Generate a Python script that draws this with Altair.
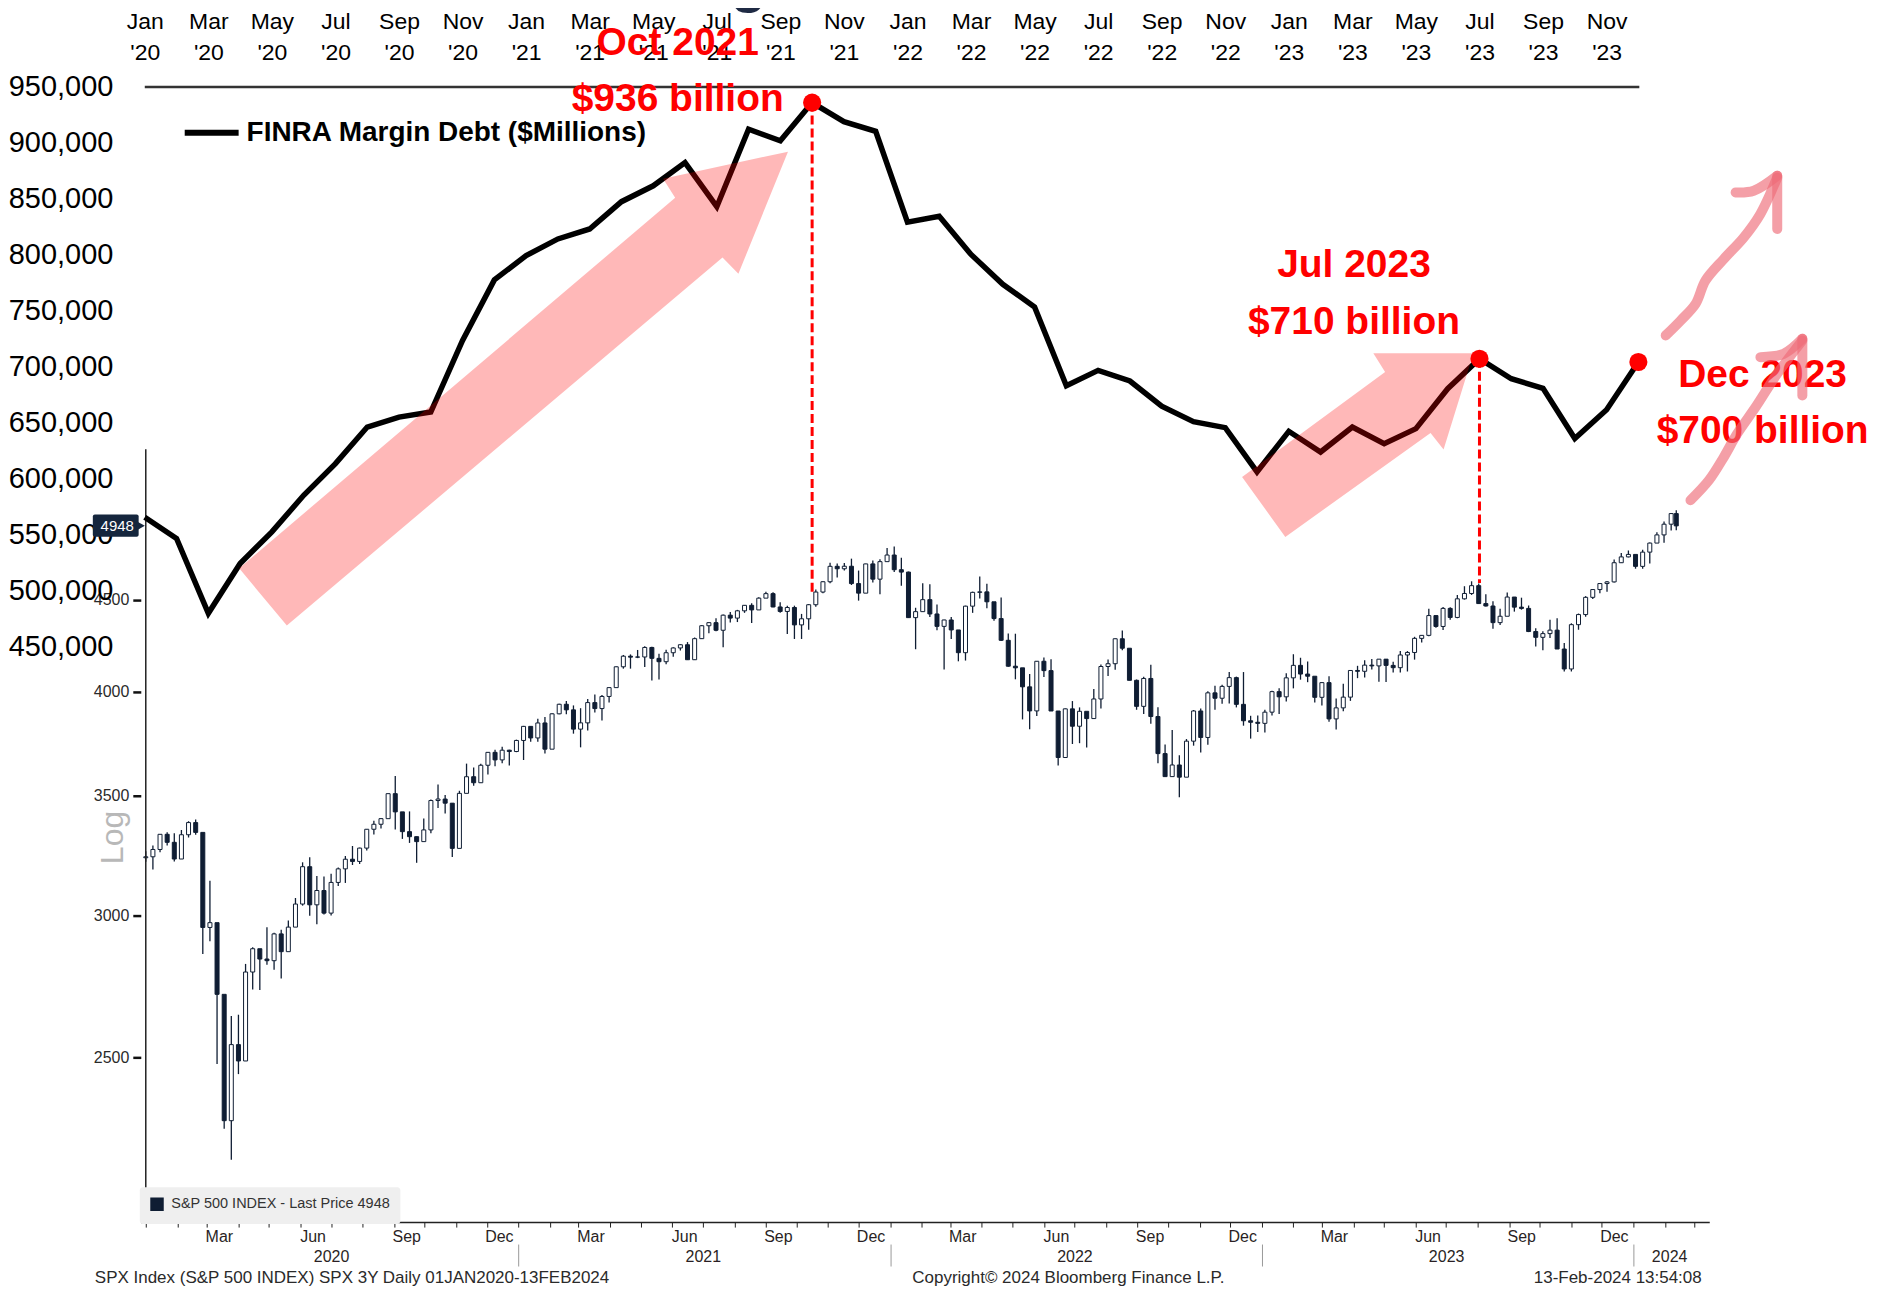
import json
import altair as alt
import pandas as pd

FONT = "Liberation Sans"
NAVY = "#0f1d33"

# ---------------- FINRA margin debt, monthly Jan 2020 .. Dec 2023 ($ millions) ----------------
md_series = "FINRA Margin Debt ($Millions)"
md_values = [565300, 546300, 479400, 523900, 552200, 584900, 613200, 645900, 654800, 659300, 723300, 777500,
             799200, 814100, 823000, 847400, 861600, 882400, 842900, 912200, 901800, 936000, 918900, 910300,
             829100, 834400, 800200, 773500, 753300, 682800, 696600, 687100, 664600, 650700, 645400, 605800,
             642100, 623600, 645900, 631100, 644500, 680200, 707000, 689100, 680600, 635700, 661400, 704100]
md_index = list(range(len(md_values)))

top_tick_index = list(range(0, 48, 2))
top_tick_month = ["Jan", "Mar", "May", "Jul", "Sep", "Nov"] * 4
top_tick_year = ["'20"] * 6 + ["'21"] * 6 + ["'22"] * 6 + ["'23"] * 6
md_y_ticks = [450000, 500000, 550000, 600000, 650000, 700000, 750000, 800000, 850000, 900000, 950000]

callout_text = ["Oct 2021", "$936 billion", "Jul 2023", "$710 billion", "Dec 2023", "$700 billion"]
callout_i = [16.77, 16.77, 38.05, 38.05, 50.91, 50.91]
callout_v = [989400, 939100, 790700, 739400, 692300, 642200]

peak_i = [21, 42, 47]
peak_v = [936000, 707000, 704100]

drop_i = [21, 42]
drop_top = [936000, 707000]
drop_bottom = [495800, 506500]

top_rule_start = [0.0]
top_rule_end = [47.03]
top_rule_level = [950000]

# pink block arrows (vertices in month-index / value units)
arrow_id = [1] * 7 + [2] * 7
arrow_i = [2.97, 16.69, 16.31, 20.24, 18.68, 18.18, 4.47,
           34.53, 39.03, 38.66, 41.81, 40.87, 40.46, 35.89]
arrow_v = [519600, 850900, 868000, 892100, 783000, 797400, 468500,
           601300, 695100, 712000, 712000, 625800, 640600, 547700]

# hand-drawn strokes on the right
stroke_id = [1] * 8 + [2] * 3 + [3] * 2 + [4] * 7 + [5] * 3 + [6] * 2
stroke_i = [47.86, 48.33, 48.80, 49.11, 49.69, 50.32, 50.84, 51.37,
            50.06, 50.63, 51.37,
            51.37, 51.37,
            48.64, 49.22, 49.69, 50.11, 50.69, 51.37, 52.16,
            50.84, 51.57, 52.16,
            52.16, 52.16]
stroke_v = [727800, 741100, 756000, 776800, 796200, 815500, 836400, 869000,
            855700, 857200, 870600,
            870600, 823000,
            580500, 598300, 619100, 640000, 663800, 693600, 723300,
            708400, 711400, 724800,
            724800, 674200]

# ---------------- S&P 500 weekly candles (Jan 2020 .. 13 Feb 2024) ----------------
spx_label = "S&P 500 INDEX - Last Price 4948"
spx_first_open = 3230.78
spx_close = [
    3234.85, 3265.35, 3329.62, 3295.47, 3225.52, 3327.71, 3380.16, 3337.75, 2954.22,
    2972.37, 2711.02, 2304.92, 2541.47, 2488.65, 2789.82, 2874.56, 2836.74,
    2830.71, 2929.80, 2863.70, 2955.45, 3044.31, 3193.93, 3041.31, 3097.74, 3009.05,
    3130.01, 3185.04, 3224.73, 3215.63, 3271.12, 3351.28, 3372.85, 3397.16, 3508.01,
    3426.96, 3340.97, 3319.47, 3298.46, 3348.44, 3477.13, 3483.81, 3465.39, 3269.96,
    3509.44, 3585.15, 3557.54, 3638.35, 3699.12, 3663.46, 3709.41, 3703.06, 3756.07,
    3824.68, 3768.25, 3841.47, 3714.24, 3886.83, 3934.83, 3906.71, 3811.15,
    3841.94, 3943.34, 3913.10, 3974.54, 4019.87, 4128.80, 4185.47, 4180.17, 4181.17,
    4232.60, 4173.85, 4155.86, 4204.11, 4229.89, 4247.44, 4166.45, 4280.70,
    4352.34, 4369.55, 4327.16, 4411.79, 4395.26, 4436.52, 4468.00, 4441.67, 4509.37,
    4535.43, 4458.58, 4432.99, 4455.48, 4357.04, 4391.34, 4471.37, 4544.90, 4605.38,
    4697.53, 4682.85, 4697.96, 4594.62, 4538.43, 4712.02, 4620.64, 4725.79, 4766.18,
    4677.03, 4662.85, 4397.94, 4431.85, 4500.53, 4418.64, 4348.87, 4384.65,
    4328.87, 4204.31, 4463.12, 4543.06, 4545.86, 4488.28, 4392.59, 4271.78, 4131.93,
    4123.34, 4023.89, 3901.36, 4158.24, 4108.54, 3900.86, 3674.84, 3911.74,
    3825.33, 3899.38, 3863.16, 3961.63, 4130.29, 4145.19, 4280.15, 4228.48, 4057.66,
    3924.26, 4067.36, 3873.33, 3693.23, 3585.62, 3639.66, 3583.07, 3752.75, 3901.06,
    3770.55, 3992.93, 3965.34, 4026.12, 4071.70, 3934.38, 3852.36, 3844.82, 3839.50,
    3895.08, 3999.09, 3972.61, 4070.56, 4136.48, 4090.46, 4079.09, 3970.04,
    4045.64, 3861.59, 3916.64, 3970.99, 4109.31, 4105.02, 4137.64, 4133.52, 4169.48,
    4136.25, 4124.08, 4191.98, 4205.45, 4282.37, 4298.86, 4409.59, 4348.33, 4450.38,
    4398.95, 4505.42, 4536.34, 4582.23, 4478.03, 4464.05, 4369.71, 4405.71,
    4515.77, 4457.49, 4450.32, 4320.06, 4288.05, 4308.50, 4327.78, 4224.16, 4117.37,
    4358.34, 4415.24, 4514.02, 4559.34, 4594.63, 4604.37, 4719.19, 4754.63, 4769.83,
    4697.24, 4783.83, 4839.81, 4890.97, 4958.61, 5026.61, 4948.00]
spx_high = [
    3258, 3282, 3330, 3338, 3334, 3348, 3386, 3393, 3260,
    3137, 2882, 2553, 2637, 2641, 2819, 2880, 2870,
    2955, 2934, 2945, 2981, 3068, 3212, 3233, 3156, 3154,
    3165, 3191, 3238, 3280, 3273, 3352, 3388, 3400, 3509,
    3588, 3425, 3429, 3320, 3398, 3482, 3550, 3502, 3465,
    3521, 3646, 3628, 3645, 3700, 3712, 3726, 3712, 3760,
    3827, 3824, 3862, 3871, 3890, 3938, 3951, 3929,
    3915, 3961, 3984, 3982, 4021, 4130, 4192, 4195, 4219,
    4239, 4237, 4198, 4220, 4234, 4250, 4262, 4287,
    4356, 4372, 4394, 4415, 4430, 4442, 4469, 4480, 4514,
    4546, 4543, 4486, 4466, 4466, 4419, 4476, 4560, 4609,
    4719, 4715, 4718, 4744, 4672, 4713, 4732, 4741, 4809,
    4819, 4749, 4666, 4454, 4596, 4591, 4472, 4386,
    4402, 4320, 4466, 4547, 4637, 4594, 4472, 4513, 4309,
    4308, 4100, 4091, 4159, 4178, 4169, 3838, 3914,
    3951, 3919, 3880, 4013, 4141, 4168, 4282, 4326, 4219,
    4062, 4077, 4140, 3920, 3737, 3807, 3686, 3763, 3906,
    3913, 4001, 4029, 4035, 4101, 4077, 4101, 3877, 3879,
    3907, 4004, 4016, 4095, 4196, 4177, 4157, 4051,
    4049, 4079, 3964, 4040, 4111, 4134, 4164, 4170, 4171,
    4171, 4155, 4213, 4213, 4291, 4300, 4449, 4409, 4459,
    4457, 4528, 4579, 4608, 4595, 4532, 4491, 4449,
    4542, 4515, 4512, 4467, 4339, 4321, 4386, 4394, 4257,
    4366, 4421, 4521, 4561, 4596, 4610, 4739, 4779, 4794,
    4755, 4798, 4843, 4907, 4976, 5030, 5049]
spx_low = [
    3214, 3182, 3254, 3282, 3215, 3235, 3316, 3328, 2855,
    2902, 2479, 2281, 2192, 2447, 2505, 2728, 2726,
    2816, 2798, 2767, 2920, 2970, 3038, 2999, 2966, 3004,
    3000, 3116, 3128, 3201, 3205, 3261, 3329, 3355, 3400,
    3350, 3310, 3293, 3210, 3304, 3334, 3444, 3420, 3234,
    3280, 3512, 3544, 3558, 3595, 3634, 3648, 3637, 3700,
    3663, 3750, 3750, 3694, 3726, 3885, 3885, 3789,
    3723, 3805, 3894, 3854, 3944, 4035, 4119, 4119, 4175,
    4128, 4057, 4062, 4142, 4182, 4216, 4165, 4165,
    4279, 4310, 4322, 4234, 4370, 4373, 4425, 4368, 4449,
    4514, 4457, 4425, 4306, 4279, 4279, 4330, 4460, 4538,
    4596, 4631, 4673, 4586, 4495, 4540, 4601, 4532, 4733,
    4663, 4582, 4396, 4223, 4432, 4402, 4327, 4115,
    4279, 4158, 4162, 4425, 4507, 4451, 4381, 4268, 4129,
    4063, 3859, 3811, 3876, 4075, 3901, 3637, 3706,
    3739, 3743, 3722, 3864, 3914, 4080, 4113, 4218, 4058,
    3907, 3886, 3838, 3648, 3585, 3585, 3492, 3591, 3731,
    3698, 3736, 3907, 3938, 3939, 3919, 3828, 3765, 3797,
    3795, 3878, 3886, 3949, 4016, 4061, 4048, 3944,
    3929, 3848, 3809, 3900, 3952, 4069, 4073, 4115, 4050,
    4049, 4099, 4099, 4104, 4167, 4260, 4294, 4341, 4329,
    4386, 4395, 4501, 4528, 4475, 4461, 4336, 4357,
    4415, 4432, 4443, 4317, 4238, 4217, 4285, 4224, 4104,
    4104, 4330, 4403, 4505, 4538, 4547, 4601, 4717, 4752,
    4683, 4683, 4715, 4845, 4842, 4919, 4920]

spx_y_ticks = [2500, 3000, 3500, 4000, 4500]
quarter_labels = ["Mar", "Jun", "Sep", "Dec"]
last_labelled_month = "2023-12-01"
year_label_dates = ["2020-07-01", "2021-07-01", "2022-07-01", "2023-07-01", "2024-02-05"]
year_sep_dates = ["2021-01-01", "2022-01-01", "2023-01-01", "2024-01-01"]
footer_text = ["SPX Index (S&P 500 INDEX) SPX 3Y  Daily 01JAN2020-13FEB2024",
               "Copyright\u00a9 2024 Bloomberg Finance L.P.",
               "13-Feb-2024 13:54:08"]


def ms(s):
    return int(pd.Timestamp(s, tz="UTC").value // 1_000_000)


# ---------------- frames ----------------
md_df = pd.DataFrame({"i": md_index, "value": md_values, "series": md_series})
top_rule_df = pd.DataFrame({"i0": top_rule_start, "i1": top_rule_end, "v": top_rule_level})
drop_df = pd.DataFrame({"i": drop_i, "v": drop_top, "v2": drop_bottom})
peak_df = pd.DataFrame({"i": peak_i, "v": peak_v})
call_df = pd.DataFrame({"i": callout_i, "v": callout_v, "t": callout_text})
arrow_df = pd.DataFrame({"id": arrow_id, "i": arrow_i, "v": arrow_v})
arrow_df["k"] = arrow_df.groupby("id").cumcount()
stroke_df = pd.DataFrame({"id": stroke_id, "i": stroke_i, "v": stroke_v})
stroke_df["k"] = stroke_df.groupby("id").cumcount()
g_df = pd.DataFrame({"i": [19.0], "v": [1026800], "t": ["g"]})

week_end = pd.date_range("2020-01-03", "2024-02-09", freq="W-FRI")
mid = [(d - pd.Timedelta(days=2)).strftime("%Y-%m-%d") for d in week_end] + ["2024-02-12"]
spx_df = pd.DataFrame({"date": mid, "close": spx_close, "high": spx_high, "low": spx_low})
spx_df["open"] = [spx_first_open] + spx_close[:-1]
spx_df["name"] = spx_label

# ---------------- scales ----------------
x_md = alt.Scale(domain=[-0.1257, 49.2307], nice=False, zero=False)
y_md = alt.Scale(domain=[-64816, 950000], nice=False, zero=False)
x_spx = alt.Scale(type="utc", domain=[ms("2020-01-01"), ms("2024-03-10T12:00")], nice=False)
y_spx = alt.Scale(type="log", domain=[2023.5, 8695], nice=False)

top_labels = [[m, y] for m, y in zip(top_tick_month, top_tick_year)]
top_axis = alt.Axis(orient="top", values=top_tick_index,
                    labelExpr=json.dumps(top_labels) + "[datum.value / 2]",
                    ticks=False, domain=False, grid=False, title=None,
                    labelFont=FONT, labelFontSize=23, labelLineHeight=32, labelColor="black",
                    labelPadding=54, labelFlush=False, labelOverlap=False, labelAngle=0)
left_md_axis = alt.Axis(orient="left", values=md_y_ticks, format=",d", ticks=False, domain=False,
                        grid=False, title=None, labelFont=FONT, labelFontSize=29, labelColor="black",
                        labelPadding=28, labelFlush=False, labelOverlap=False)

md_line = alt.Chart(md_df).mark_line(strokeWidth=5.5, strokeJoin="miter").encode(
    x=alt.X("i:Q", scale=x_md, axis=top_axis),
    y=alt.Y("value:Q", scale=y_md, axis=left_md_axis),
    color=alt.Color("series:N", scale=alt.Scale(domain=[md_series], range=["black"]),
                    legend=alt.Legend(orient="none", legendX=41, legendY=16, title=None,
                                      symbolType="stroke", symbolSize=2916, symbolStrokeWidth=6,
                                      labelFont=FONT, labelFontSize=28, labelFontWeight="bold",
                                      labelColor="black", labelOffset=5, padding=0, labelLimit=0)),
)
top_rule = alt.Chart(top_rule_df).mark_rule(color="#333333", strokeWidth=2.5).encode(
    x=alt.X("i0:Q", scale=x_md, axis=None), x2="i1:Q",
    y=alt.Y("v:Q", scale=y_md, axis=None))
arrows = alt.Chart(arrow_df).mark_line(fill="red", fillOpacity=0.28, stroke="red", strokeOpacity=0,
                                       strokeWidth=0).encode(
    x=alt.X("i:Q", scale=x_md, axis=None), y=alt.Y("v:Q", scale=y_md, axis=None),
    detail="id:N", order="k:Q")
drops = alt.Chart(drop_df).mark_rule(color="red", strokeWidth=3, strokeDash=[9, 4]).encode(
    x=alt.X("i:Q", scale=x_md, axis=None), y=alt.Y("v:Q", scale=y_md, axis=None), y2="v2:Q")
peaks = alt.Chart(peak_df).mark_circle(size=330, color="red", opacity=1).encode(
    x=alt.X("i:Q", scale=x_md, axis=None), y=alt.Y("v:Q", scale=y_md, axis=None))
callouts = alt.Chart(call_df).mark_text(font=FONT, fontSize=39, fontWeight="bold", color="red",
                                        align="center", baseline="middle").encode(
    x=alt.X("i:Q", scale=x_md, axis=None), y=alt.Y("v:Q", scale=y_md, axis=None), text="t:N")
strokes = alt.Chart(stroke_df).mark_line(stroke="#ee6b78", strokeOpacity=0.65, strokeWidth=10,
                                         strokeCap="round", strokeJoin="round",
                                         interpolate="catmull-rom").encode(
    x=alt.X("i:Q", scale=x_md, axis=None), y=alt.Y("v:Q", scale=y_md, axis=None),
    detail="id:N", order="k:Q")
g_mark = alt.Chart(g_df).mark_text(font=FONT, fontSize=60, fontWeight="bold", color="#1f2a44",
                                   align="center", baseline="alphabetic").encode(
    x=alt.X("i:Q", scale=x_md, axis=None), y=alt.Y("v:Q", scale=y_md, axis=None), text="t:N")

md_layer = alt.layer(top_rule, md_line, arrows, drops, peaks, callouts, strokes, g_mark).resolve_axis(
    x="independent", y="independent")

# ---------------- SPX part ----------------
month_ticks = [ms(d) for d in pd.date_range("2020-01-01", "2024-03-01", freq="MS")]
month_axis = alt.Axis(orient="bottom", values=month_ticks,
                      labelExpr="indexof(" + json.dumps(quarter_labels) +
                                ", utcFormat(datum.value, '%b')) >= 0 && datum.value <= " +
                                str(ms(last_labelled_month)) + " ? utcFormat(datum.value, '%b') : ''",
                      tickSize=5, tickColor="#222222", domainColor="#222222", domainWidth=1.5,
                      labelFont=FONT, labelFontSize=16, labelColor="#2a1f24", labelPadding=1,
                      labelOffset=12, labelFlush=False, labelOverlap=False, grid=False, title=None)
spx_y_axis = alt.Axis(orient="left", values=spx_y_ticks, format="d", tickSize=8, tickWidth=2.5,
                      tickColor="#111111", labelFont=FONT, labelFontSize=16, labelColor="#2a2a2a",
                      labelPadding=4, domain=False, grid=False, title=None, labelFlush=False,
                      labelOverlap=False)

wicks = alt.Chart(spx_df).mark_rule(strokeWidth=1.3).encode(
    x=alt.X("date:T", scale=x_spx, axis=month_axis),
    y=alt.Y("low:Q", scale=y_spx, axis=spx_y_axis), y2="high:Q",
    color=alt.Color("name:N", scale=alt.Scale(domain=[spx_label], range=[NAVY]),
                    legend=alt.Legend(orient="none", legendX=-1, legendY=1102, title=None,
                                      symbolType="square", symbolSize=144, symbolFillColor=NAVY,
                                      symbolStrokeColor=NAVY, labelFont=FONT, labelFontSize=14.5,
                                      labelColor="#333333", fillColor="#efefef", padding=10,
                                      cornerRadius=3, labelOffset=7, labelLimit=0)),
)
bodies = alt.Chart(spx_df).mark_bar(width=4, stroke=NAVY, strokeWidth=1).encode(
    x=alt.X("date:T", scale=x_spx, axis=None),
    y=alt.Y("open:Q", scale=y_spx, axis=None), y2="close:Q",
    fill=alt.condition("datum.close >= datum.open", alt.value("white"), alt.value(NAVY)),
)
year_axis_layer = alt.Chart(pd.DataFrame({"date": ["2020-06-01"]})).mark_rule(opacity=0).encode(
    x=alt.X("date:T", scale=x_spx,
            axis=alt.Axis(orient="bottom", values=[ms(d) for d in year_label_dates],
                          labelExpr="utcFormat(datum.value, '%Y')", ticks=False, domain=False,
                          grid=False, title=None, labelFont=FONT, labelFontSize=16,
                          labelColor="#2a1f24", labelPadding=26, labelFlush=False, labelOverlap=False)))
sep_axis_layer = alt.Chart(pd.DataFrame({"date": ["2020-06-01"]})).mark_rule(opacity=0).encode(
    x=alt.X("date:T", scale=x_spx,
            axis=alt.Axis(orient="bottom", values=[ms(d) for d in year_sep_dates], labels=False,
                          domain=False, grid=False, title=None, tickSize=22, tickColor="#9a9a9a",
                          tickWidth=1, offset=22)))
left_line = alt.Chart(pd.DataFrame({"date": ["2020-01-01"], "lo": [2023.5], "hi": [5460]})).mark_rule(
    color="#222222", strokeWidth=1.5).encode(
    x=alt.X("date:T", scale=x_spx, axis=None), y=alt.Y("lo:Q", scale=y_spx, axis=None), y2="hi:Q")
tag_rect = alt.Chart(pd.DataFrame({"a": ["2019-11-10"], "b": ["2019-12-25"], "lo": [4880], "hi": [5020]})
                     ).mark_rect(color="#15263d", cornerRadius=2).encode(
    x=alt.X("a:T", scale=x_spx, axis=None), x2="b:T",
    y=alt.Y("lo:Q", scale=y_spx, axis=None), y2="hi:Q")
tag_tip = alt.Chart(pd.DataFrame({"d": ["2019-12-27"], "p": [4948]})).mark_point(
    shape="triangle-right", filled=True, size=90, color="#15263d", opacity=1).encode(
    x=alt.X("d:T", scale=x_spx, axis=None), y=alt.Y("p:Q", scale=y_spx, axis=None))
tag_text = alt.Chart(pd.DataFrame({"d": ["2019-12-04"], "p": [4948], "t": ["4948"]})).mark_text(
    font=FONT, fontSize=15, color="white", align="center", baseline="middle").encode(
    x=alt.X("d:T", scale=x_spx, axis=None), y=alt.Y("p:Q", scale=y_spx, axis=None), text="t:N")
log_text = alt.Chart(pd.DataFrame({"d": ["2019-11-30"], "p": [3316], "t": ["Log"]})).mark_text(
    font=FONT, fontSize=32, color="#b8b8b8", angle=270, align="center", baseline="middle").encode(
    x=alt.X("d:T", scale=x_spx, axis=None), y=alt.Y("p:Q", scale=y_spx, axis=None), text="t:N")

foot_y = 1882.3
foot_left = alt.Chart(pd.DataFrame({"d": ["2019-11-12"], "p": [foot_y], "t": [footer_text[0]]})).mark_text(
    font=FONT, fontSize=17, color="#2a2a2a", align="left", baseline="middle").encode(
    x=alt.X("d:T", scale=x_spx, axis=None), y=alt.Y("p:Q", scale=y_spx, axis=None), text="t:N")
foot_mid = alt.Chart(pd.DataFrame({"d": ["2022-06-25"], "p": [foot_y], "t": [footer_text[1]]})).mark_text(
    font=FONT, fontSize=17, color="#2a2a2a", align="center", baseline="middle").encode(
    x=alt.X("d:T", scale=x_spx, axis=None), y=alt.Y("p:Q", scale=y_spx, axis=None), text="t:N")
foot_right = alt.Chart(pd.DataFrame({"d": ["2024-03-08"], "p": [foot_y], "t": [footer_text[2]]})).mark_text(
    font=FONT, fontSize=17, color="#2a2a2a", align="right", baseline="middle").encode(
    x=alt.X("d:T", scale=x_spx, axis=None), y=alt.Y("p:Q", scale=y_spx, axis=None), text="t:N")

spx_layer = alt.layer(wicks, bodies, year_axis_layer, sep_axis_layer, left_line, log_text,
                      foot_left, foot_mid, foot_right, tag_rect, tag_tip, tag_text).resolve_axis(
    x="independent", y="independent")

chart = alt.layer(spx_layer, md_layer).resolve_scale(
    x="independent", y="independent", color="independent"
).properties(
    width=1571, height=1137,
    padding={"left": 133, "top": 78, "right": 160, "bottom": 67},
    autosize=alt.AutoSizeParams(type="none"),
    background="white",
).configure(font=FONT).configure_view(strokeWidth=0)

chart.save("out.html", embed_options={"renderer": "svg", "actions": False})
